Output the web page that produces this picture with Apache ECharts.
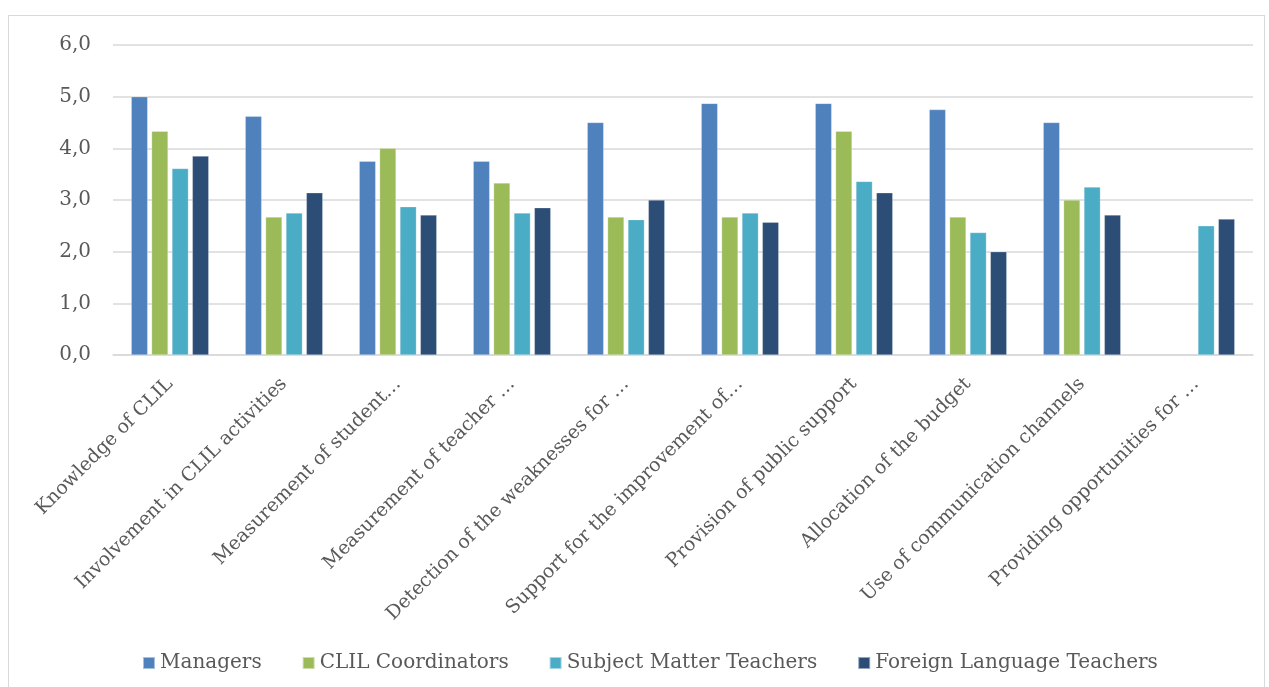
<!DOCTYPE html>
<html>
<head>
<meta charset="utf-8">
<script src="https://cdn.jsdelivr.net/npm/echarts@6/dist/echarts.min.js"></script>
<style>
  html, body { margin: 0; padding: 0; background: #fff; }
  #frame {
    position: absolute; left: 8px; top: 15px; width: 1257px; height: 700px;
    border: 1.5px solid #d9d9d9; box-sizing: border-box;
  }
  #chart { position: absolute; left: 0; top: 0; width: 1269px; height: 687px; }
</style>
</head>
<body>
<div id="frame"></div>
<div id="chart"></div>
<script>
// categories (labels as they appear, truncated)
const categories = [
  'Knowledge of CLIL',
  'Involvement in CLIL activities',
  'Measurement of student…',
  'Measurement of teacher …',
  'Detection of the weaknesses for …',
  'Support for the improvement of…',
  'Provision of public support',
  'Allocation of the budget',
  'Use of communication channels',
  'Providing opportunities for …'
]

// series values
const managers = [5.0, 4.62, 3.75, 3.75, 4.5, 4.87, 4.87, 4.75, 4.5, null]
const clilCoordinators = [4.33, 2.67, 4.0, 3.33, 2.67, 2.67, 4.33, 2.67, 3.0, null]
const subjectTeachers = [3.61, 2.75, 2.87, 2.75, 2.62, 2.75, 3.36, 2.37, 3.25, 2.5]
const languageTeachers = [3.85, 3.14, 2.71, 2.85, 3.0, 2.57, 3.14, 2.0, 2.71, 2.63]

const seriesNames = ['Managers', 'CLIL Coordinators', 'Subject Matter Teachers', 'Foreign Language Teachers']
const colors = ['#4f81bd', '#9bbb59', '#4bacc6', '#2c4d75']

const font = '"DejaVu Serif", "Liberation Serif", serif'
const textColor = '#595959'

const makeBar = (name, data, color) => ({
  name,
  type: 'bar',
  data,
  barGap: '24%',
  barCategoryGap: '32%',
  itemStyle: { color, borderColor: 'rgba(255,255,255,0.5)', borderWidth: 0.5 }
})

const chart = echarts.init(document.getElementById('chart'))
chart.setOption({
  animation: false,
  textStyle: { fontFamily: font },
  grid: { left: 113, right: 16, top: 45, bottom: 332, containLabel: false },
  legend: {
    data: seriesNames,
    left: 137,
    top: 648,
    itemWidth: 12,
    itemHeight: 12,
    itemGap: 40,
    icon: 'rect',
    textStyle: { fontFamily: font, fontSize: 20, color: textColor }
  },
  xAxis: {
    type: 'category',
    data: categories,
    axisTick: { show: false },
    axisLine: { lineStyle: { color: '#d9d9d9', width: 1.5 } },
    axisLabel: {
      interval: 0,
      rotate: 45,
      margin: 26,
      fontFamily: font,
      fontSize: 19,
      color: textColor
    }
  },
  yAxis: {
    type: 'value',
    min: 0,
    max: 6,
    interval: 1,
    axisLine: { show: false },
    axisTick: { show: false },
    splitLine: { lineStyle: { color: '#d9d9d9', width: 1.5 } },
    axisLabel: {
      margin: 22,
      fontFamily: font,
      fontSize: 20,
      color: textColor,
      formatter: v => v.toFixed(1).replace('.', ',')
    }
  },
  series: [
    makeBar(seriesNames[0], managers, colors[0]),
    makeBar(seriesNames[1], clilCoordinators, colors[1]),
    makeBar(seriesNames[2], subjectTeachers, colors[2]),
    makeBar(seriesNames[3], languageTeachers, colors[3])
  ]
})
</script>
</body>
</html>
